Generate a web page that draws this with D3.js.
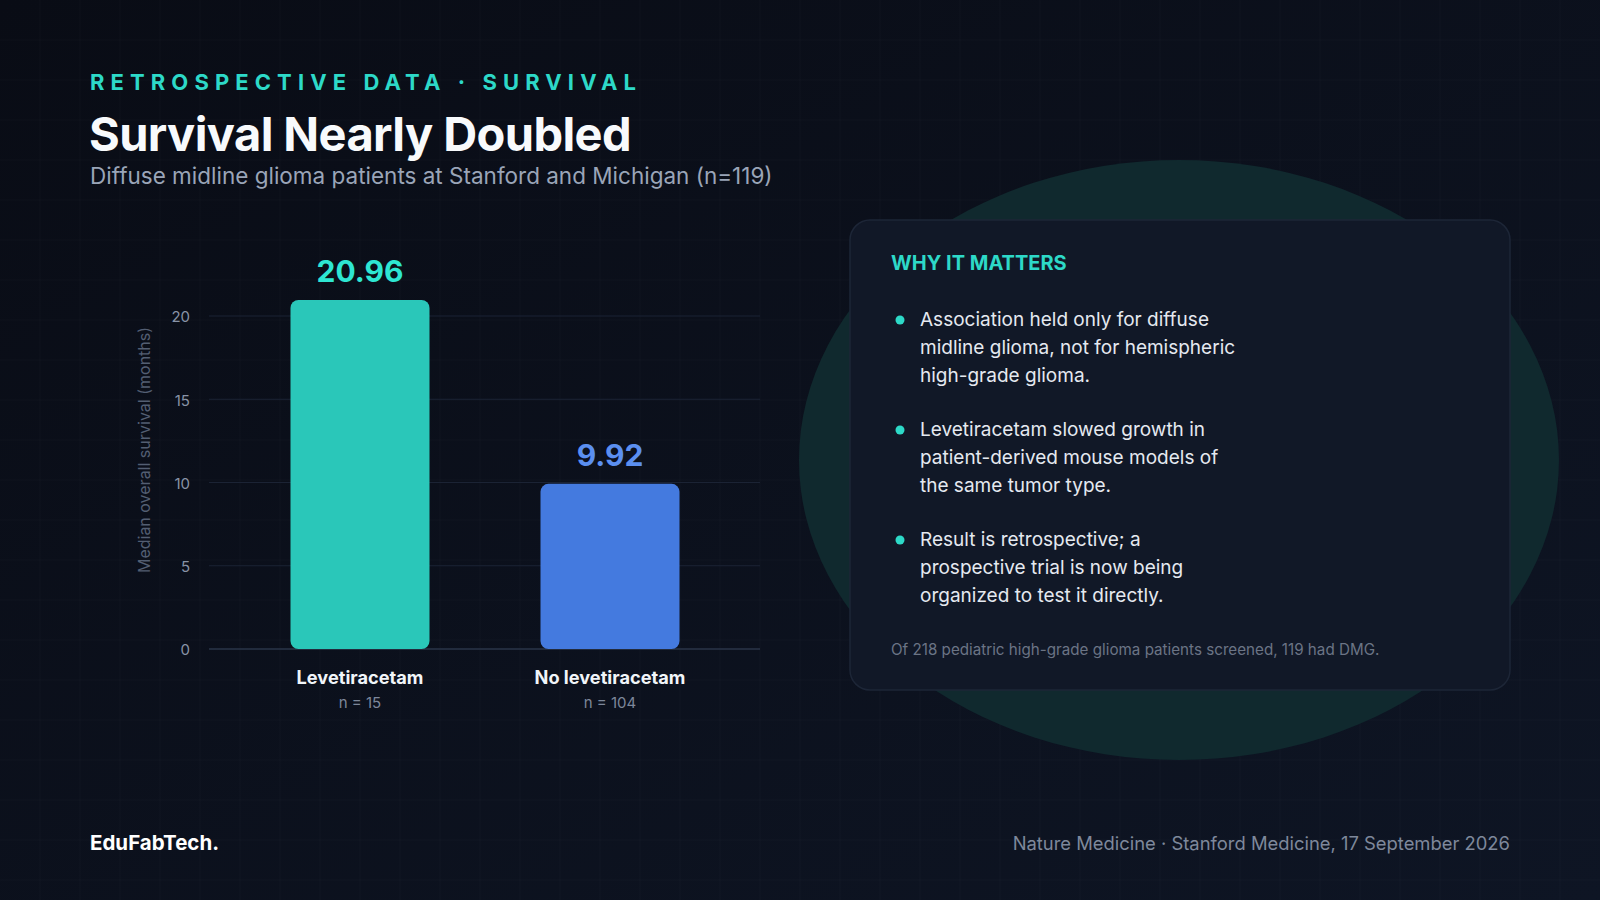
<!DOCTYPE html>
<html>
<head>
<meta charset="utf-8">
<script src="https://cdn.jsdelivr.net/npm/d3@7"></script>
<style>
  html, body { margin: 0; padding: 0; background: #0a0e17; }
  svg { display: block; font-family: Inter, "Noto Sans", sans-serif; }
</style>
</head>
<body>
<div id="slide"></div>
<script>
// --- data
const groups = ["Levetiracetam", "No levetiracetam"];
const survival = [20.96, 9.92];
const sampleSizes = ["n = 15", "n = 104"];
const yTicks = [0, 5, 10, 15, 20];
const barColors = ["#2ac7b9", "#447adf"];
const labelColors = ["#2ee6d2", "#5b8ff0"];

const eyebrow = "RETROSPECTIVE DATA · SURVIVAL";
const title = "Survival Nearly Doubled";
const subtitle = "Diffuse midline glioma patients at Stanford and Michigan (n=119)";
const yTitle = "Median overall survival (months)";

const cardTitle = "WHY IT MATTERS";
const bullets = [
  ["Association held only for diffuse", "midline glioma, not for hemispheric", "high-grade glioma."],
  ["Levetiracetam slowed growth in", "patient-derived mouse models of", "the same tumor type."],
  ["Result is retrospective; a", "prospective trial is now being", "organized to test it directly."]
];
const footnote = "Of 218 pediatric high-grade glioma patients screened, 119 had DMG.";
const brand = "EduFabTech.";
const source = "Nature Medicine · Stanford Medicine, 17 September 2026";

const W = 1600, H = 900;

const svg = d3.select("#slide")
              .append("svg")
              .attr("width", W)
              .attr("height", H);

// --- background
const defs = svg.append("defs");
const bg = defs.append("linearGradient")
               .attr("id", "bg")
               .attr("x1", 0).attr("y1", 0)
               .attr("x2", 1).attr("y2", 1);
bg.append("stop").attr("offset", "0%").attr("stop-color", "#090c15");
bg.append("stop").attr("offset", "100%").attr("stop-color", "#0e1524");

svg.append("rect")
   .attr("width", W).attr("height", H)
   .attr("fill", "url(#bg)");

const grid = svg.append("g").attr("stroke", "#ffffff").attr("stroke-opacity", 0.025);
grid.selectAll("line.v")
    .data(d3.range(40, W, 40))
    .enter().append("line")
    .attr("x1", d => d).attr("x2", d => d)
    .attr("y1", 0).attr("y2", H);
grid.selectAll("line.h")
    .data(d3.range(40, H, 40))
    .enter().append("line")
    .attr("y1", d => d).attr("y2", d => d)
    .attr("x1", 0).attr("x2", W);

// glow ellipse behind the card
svg.append("ellipse")
   .attr("cx", 1179).attr("cy", 460)
   .attr("rx", 380).attr("ry", 300)
   .attr("fill", "#10292e");

// --- header
svg.append("text")
   .attr("x", 90).attr("y", 90)
   .attr("fill", "#2dd9c8")
   .attr("font-size", 22)
   .attr("font-weight", 700)
   .attr("letter-spacing", "6.1px")
   .text(eyebrow);

svg.append("text")
   .attr("x", 89).attr("y", 151)
   .attr("fill", "#f8fafc")
   .attr("font-size", 47)
   .attr("font-weight", 700)
   .attr("letter-spacing", "-0.6px")
   .text(title);

svg.append("text")
   .attr("x", 90).attr("y", 184)
   .attr("fill", "#9aa5b8")
   .attr("font-size", 22.5)
   .text(subtitle);

// --- chart
const y = d3.scaleLinear().domain([0, 20]).range([649, 316]);
const x = d3.scaleBand()
            .domain(groups)
            .range([235, 735])
            .paddingInner(0.444)
            .paddingOuter(0.222);

const chart = svg.append("g").attr("class", "chart");

chart.append("g")
     .selectAll("line")
     .data(yTicks)
     .enter().append("line")
     .attr("x1", 209).attr("x2", 760)
     .attr("y1", d => y(d)).attr("y2", d => y(d))
     .attr("stroke", d => d === 0 ? "#2a3449" : "#1b2334")
     .attr("stroke-width", d => d === 0 ? 1.5 : 1);

const yAxis = chart.append("g")
                   .attr("transform", "translate(190,1)")
                   .call(d3.axisLeft(y).tickValues(yTicks).tickSize(0).tickPadding(0));
yAxis.select(".domain").remove();
yAxis.selectAll("text")
     .attr("fill", "#8893a6")
     .attr("font-size", 15)
     .attr("font-family", "Inter, sans-serif");

chart.append("text")
     .attr("transform", "translate(150,450) rotate(-90)")
     .attr("text-anchor", "middle")
     .attr("fill", "#535e72")
     .attr("font-size", 16)
     .text(yTitle);

chart.selectAll("rect.bar")
     .data(survival)
     .enter().append("rect")
     .attr("class", "bar")
     .attr("x", (d, i) => x(groups[i]))
     .attr("width", x.bandwidth())
     .attr("y", d => y(d))
     .attr("height", d => y(0) - y(d))
     .attr("rx", 8)
     .attr("fill", (d, i) => barColors[i]);

chart.selectAll("text.value")
     .data(survival)
     .enter().append("text")
     .attr("class", "value")
     .attr("x", (d, i) => x(groups[i]) + x.bandwidth() / 2)
     .attr("y", d => y(d) - 18)
     .attr("text-anchor", "middle")
     .attr("fill", (d, i) => labelColors[i])
     .attr("font-size", 30)
     .attr("font-weight", 700)
     .text(d => d.toFixed(2));

chart.selectAll("text.cat")
     .data(groups)
     .enter().append("text")
     .attr("class", "cat")
     .attr("x", d => x(d) + x.bandwidth() / 2)
     .attr("y", 684)
     .attr("text-anchor", "middle")
     .attr("fill", "#f1f5f9")
     .attr("font-size", 18.2)
     .attr("font-weight", 700)
     .text(d => d);

chart.selectAll("text.n")
     .data(sampleSizes)
     .enter().append("text")
     .attr("class", "n")
     .attr("x", (d, i) => x(groups[i]) + x.bandwidth() / 2)
     .attr("y", 708)
     .attr("text-anchor", "middle")
     .attr("fill", "#7d879a")
     .attr("font-size", 15)
     .text(d => d);

// --- card
const card = svg.append("g").attr("class", "card");
card.append("rect")
    .attr("x", 850).attr("y", 220)
    .attr("width", 660).attr("height", 470)
    .attr("rx", 20)
    .attr("fill", "#111827")
    .attr("stroke", "#1d2637")
    .attr("stroke-width", 1.5);

card.append("text")
    .attr("x", 891).attr("y", 270)
    .attr("fill", "#2dd9c8")
    .attr("font-size", 20)
    .attr("font-weight", 700)
    .text(cardTitle);

const items = card.selectAll("g.item")
                  .data(bullets)
                  .enter().append("g")
                  .attr("class", "item")
                  .attr("transform", (d, i) => "translate(0," + (326 + i * 110) + ")");
items.append("circle")
     .attr("cx", 900).attr("cy", -6)
     .attr("r", 4.5)
     .attr("fill", "#2dd9c8");
items.selectAll("text")
     .data(d => d)
     .enter().append("text")
     .attr("x", 920)
     .attr("y", (d, i) => i * 28)
     .attr("fill", "#e5e9f0")
     .attr("font-size", 19)
     .text(d => d);

card.append("text")
    .attr("x", 891).attr("y", 655)
    .attr("fill", "#6b7485")
    .attr("font-size", 15.2)
    .text(footnote);

// --- footer
svg.append("text")
   .attr("x", 90).attr("y", 850)
   .attr("fill", "#ffffff")
   .attr("font-size", 20.5)
   .attr("font-weight", 700)
   .text(brand);

svg.append("text")
   .attr("x", 1510).attr("y", 850)
   .attr("text-anchor", "end")
   .attr("fill", "#7e889b")
   .attr("font-size", 18.4)
   .text(source);
</script>
</body>
</html>
